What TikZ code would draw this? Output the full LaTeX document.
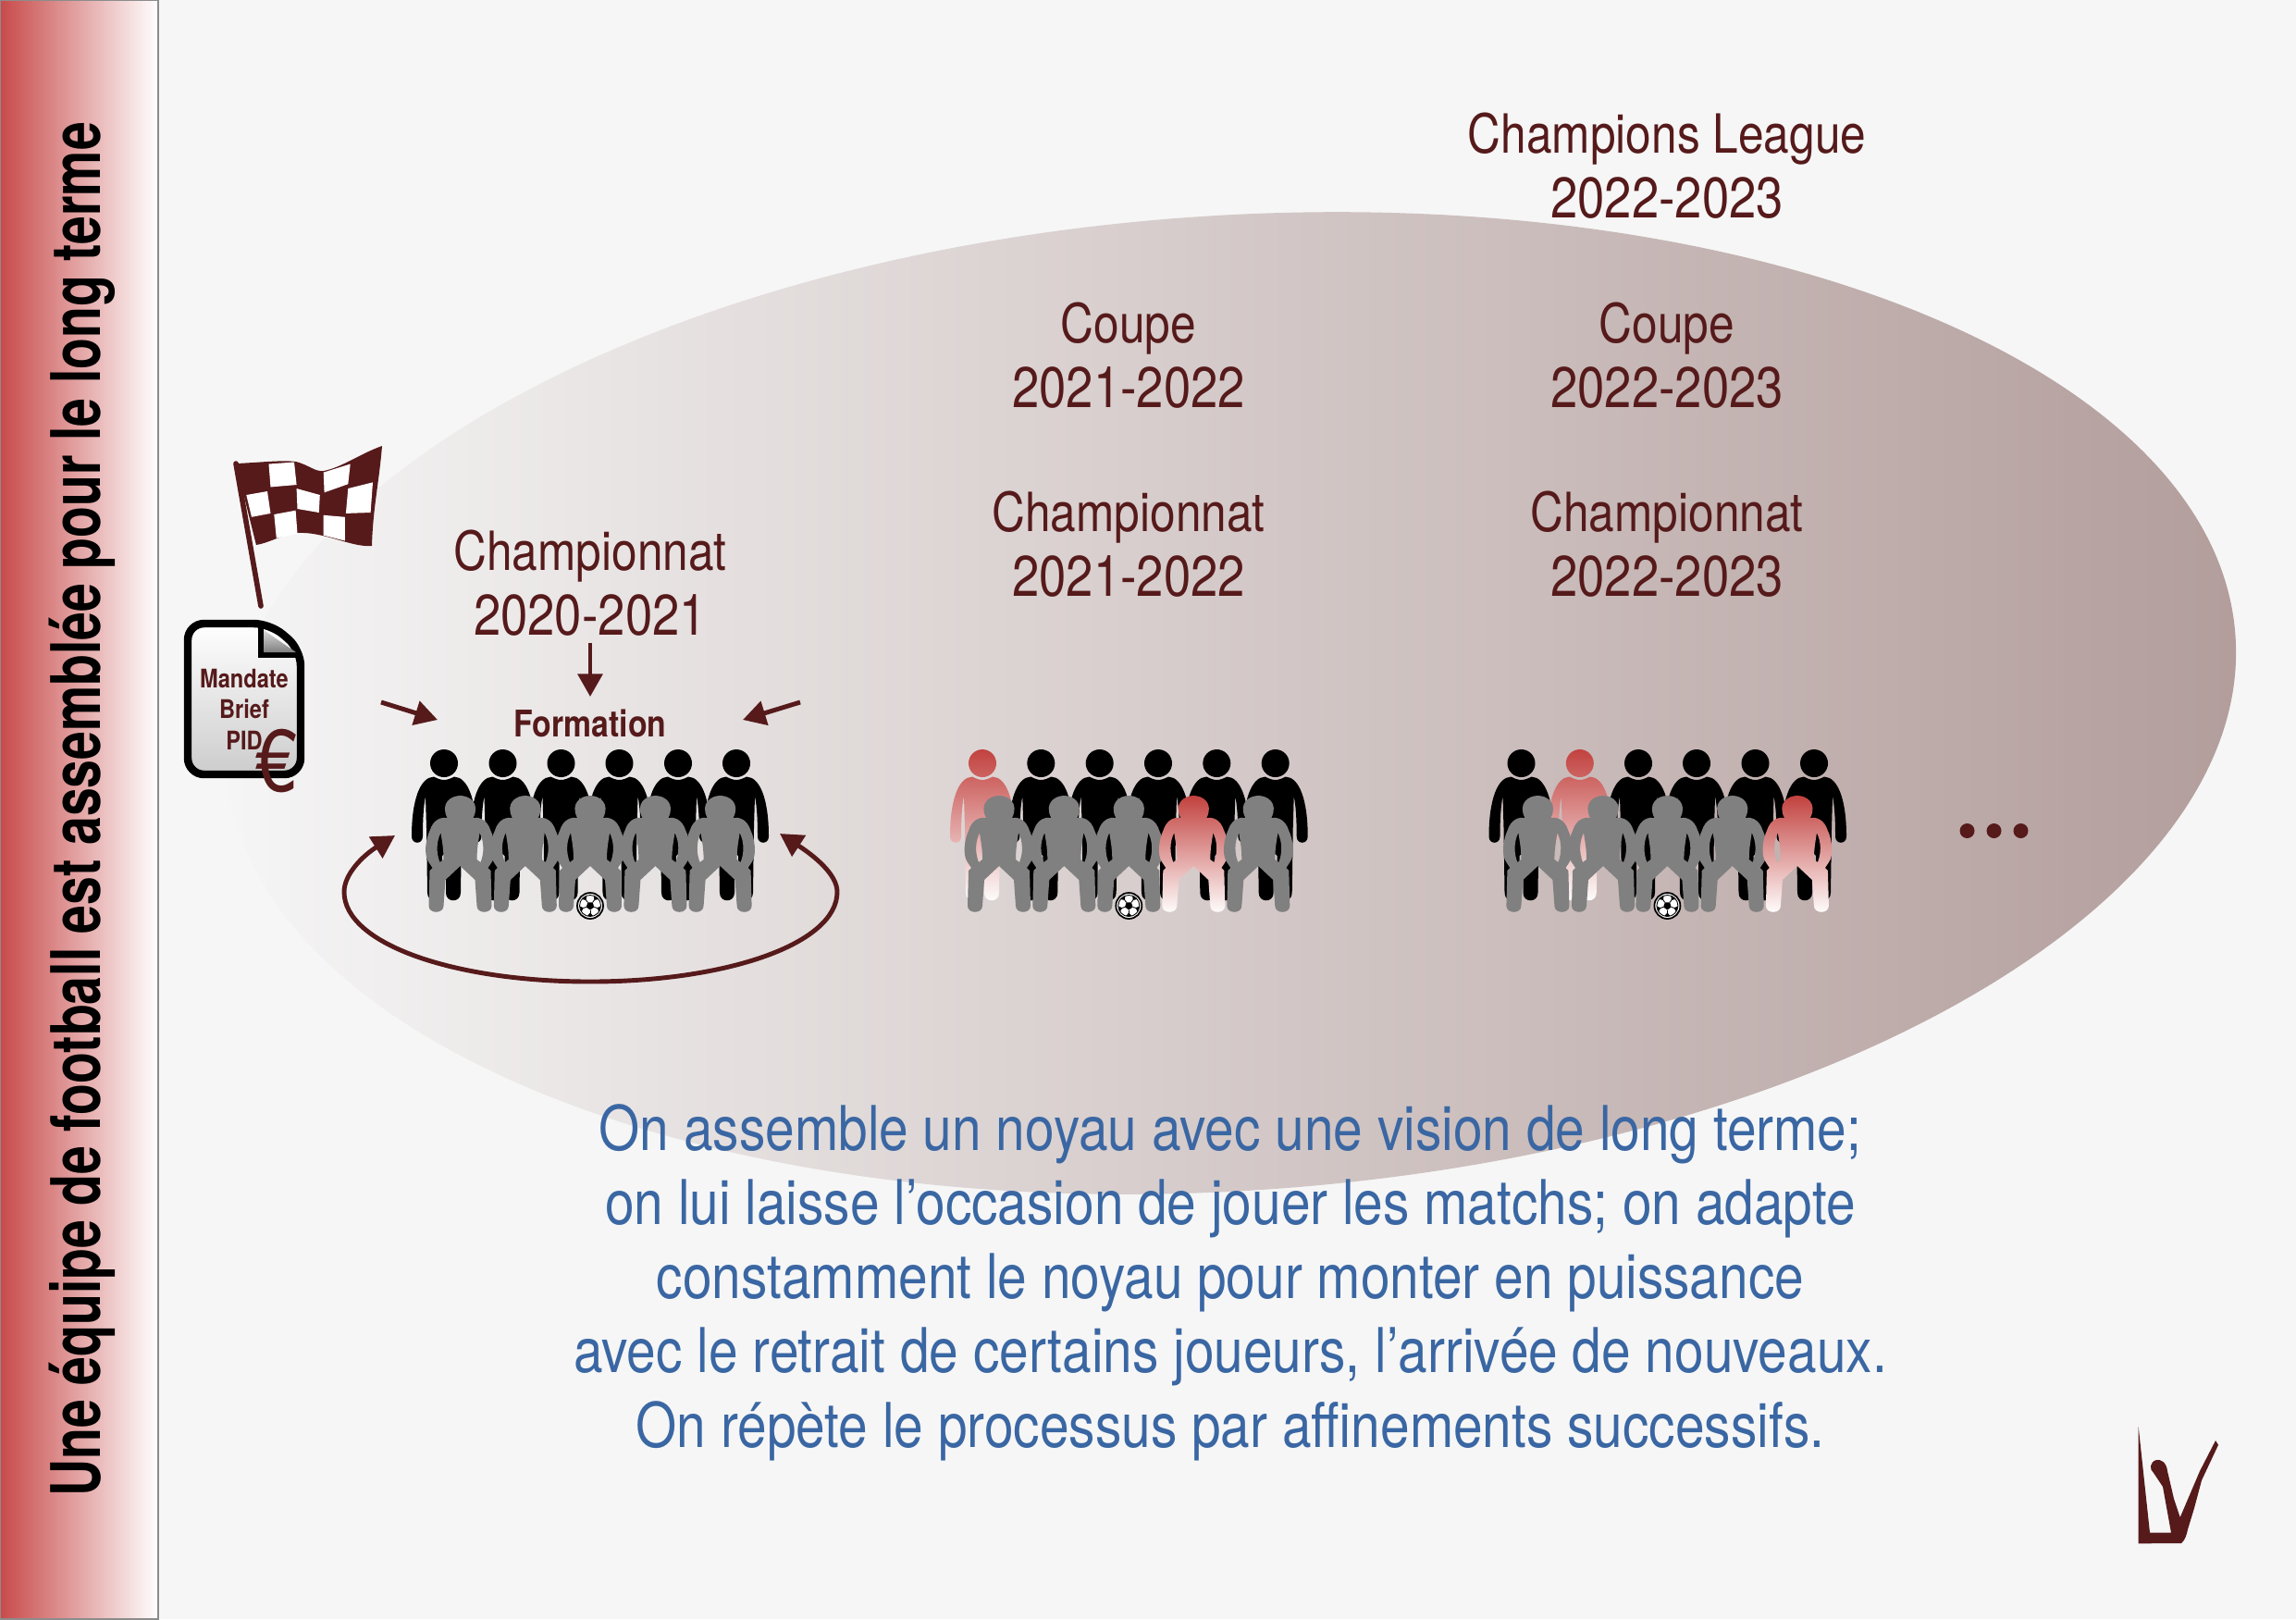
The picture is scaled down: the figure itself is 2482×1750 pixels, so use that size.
\documentclass[tikz,border=0pt]{standalone}
\usepackage{fontspec}
\setmainfont[FakeStretch=0.85]{TeX Gyre Heros}
\newfontfamily\headfont[FakeStretch=0.75]{TeX Gyre Heros}
\usetikzlibrary{arrows.meta}
\definecolor{maroon}{HTML}{561A1B}
\definecolor{bluetext}{HTML}{3A67A3}
\definecolor{bandred}{HTML}{C84A4A}
\definecolor{paper}{HTML}{F6F6F6}
\definecolor{skydark}{HTML}{B29D9B}
\definecolor{playerred}{HTML}{C2423F}
\newcommand{\season}[1]{{\fontsize{17.6pt}{19.9pt}\selectfont #1}}

\begin{document}
\begin{tikzpicture}[
  x=0.01cm,y=-0.01cm,
  flow/.style={-{Triangle[length=7pt,width=7.5pt]},draw=maroon,line width=1.4pt},
  loopflow/.style={{Triangle[length=7pt,width=7.5pt]}-{Triangle[length=7pt,width=7.5pt]},draw=maroon,line width=1.4pt},
  label/.style={font=\fontsize{16.6pt}{19.9pt}\selectfont,text=maroon,align=center},
  punch/.style={font=\fontsize{19pt}{22.8pt}\selectfont,text=bluetext,align=center},
  standout/.style={font=\fontsize{21pt}{24pt}\selectfont\headfont\bfseries,text=black},
  small/.style={font=\fontsize{7.9pt}{9pt}\selectfont\bfseries,text=maroon},
  old/.style={fill=black},
  bench/.style={fill=black!50},
  new/.style={top color=playerred,bottom color=white},
  pics/standing/.style={code={
    \path[pic actions,even odd rule] (0,0) circle[radius=15]
      (0,18) .. controls (4,18) and (8,16) .. (11,14.5) .. controls (26,15) and (35,40) .. (35,79)
      .. controls (35,88) and (23,88) .. (23,79) .. controls (23,60) and (22,45) .. (20,36)
      -- (19,70) -- (18,140) .. controls (18,151) and (2,151) .. (2,140) -- (2,100) -- (0,98)
      -- (-2,100) -- (-2,140) .. controls (-2,151) and (-18,151) .. (-18,140) -- (-19,70) -- (-20,36)
      .. controls (-22,45) and (-23,60) .. (-23,79) .. controls (-23,88) and (-35,88) .. (-35,79)
      .. controls (-35,40) and (-26,15) .. (-11,14.5) .. controls (-8,16) and (-4,18) .. (0,18) -- cycle;
  }},
  pics/crouching/.style={code={
    \path[pic actions,even odd rule] (14,8) .. controls (20,7) and (29,9) .. (33,22)
      .. controls (37,30) and (40,48) .. (34,56) -- (30,62) -- (33,65) -- (34,103)
      .. controls (34,112) and (18,112) .. (18,103) -- (16,75) -- (0,60)
      -- (-16,75) -- (-18,103) .. controls (-18,112) and (-34,112) .. (-34,103)
      -- (-33,65) -- (-30,62) -- (-34,56) .. controls (-40,48) and (-37,30) .. (-33,22)
      .. controls (-29,9) and (-20,7) .. (-14,8) .. controls (-22,-8) and (-10,-16) .. (0,-16)
      .. controls (10,-16) and (22,-8) .. (14,8) -- cycle
      (21,24) .. controls (26,34) and (26,46) .. (22,56) -- (18,53) .. controls (18,40) and (20,32) .. (21,24) -- cycle
      (-21,24) .. controls (-26,34) and (-26,46) .. (-22,56) -- (-18,53) .. controls (-18,40) and (-20,32) .. (-21,24) -- cycle;
  }},
  pics/ball/.style={code={
    \draw[fill=white,line width=0.5pt] (0,0) circle[radius=14];
    \draw[line width=0.25pt] (0,0) circle[radius=11.5];
    \fill[black] (90:4.5) -- (162:4.5) -- (234:4.5) -- (306:4.5) -- (18:4.5) -- cycle;
    \foreach \a in {90,162,234,306,18} {
      \draw[line width=0.25pt] (\a:4.5) -- (\a:8);
      \fill[black] (\a-16:11.5) -- (\a:7.5) -- (\a+16:11.5) -- cycle;
    }
  }},
]
\useasboundingbox (0,0) rectangle (2482,1750);
\fill[paper] (0,0) rectangle (2482,1750);
\path[shade,draw=black!45,line width=0.4pt,left color=bandred,right color=white] (0,0) rectangle (171,1750);
\node[standout,rotate=90] (title) at (89,875) {Une équipe de football est assemblée pour le long terme};

\coordinate (sky) at (1331,760);
\shade[left color=paper,right color=skydark,rotate around={3.8:(sky)}] (sky) ellipse[x radius=1088,y radius=527];

% flag
\draw[maroon,line width=1.6pt,line cap=round] (255,501) -- (282,655);
\fill[maroon] (255,501) .. controls (280,500) and (305,497) .. (320,499) .. controls (335,503) and (340,510) .. (350,509)
  .. controls (370,505) and (390,490) .. (413,482) .. controls (410,520) and (403,550) .. (402,590)
  .. controls (380,592) and (350,574) .. (320,576) .. controls (305,578) and (290,587) .. (277,589) -- cycle;
\fill[white] (290.5,501.5) -- (318,499.5) -- (320.6,524) -- (292.5,526.4) -- cycle;
\fill[white] (349.7,510.6) -- (378.7,501.5) -- (376.3,523.2) -- (350.6,532.3) -- cycle;
\fill[white] (266.3,535) -- (289,531) -- (292.5,554.9) -- (272,558.8) -- cycle;
\fill[white] (320.6,528) -- (345.8,535) -- (344.8,554) -- (321.5,550) -- cycle;
\fill[white] (376.3,528) -- (403,521.3) -- (400.6,554) -- (373.9,554.9) -- cycle;
\fill[white] (296.3,556) -- (319.6,551.7) -- (321.5,576.6) -- (298.8,581.7) -- cycle;
\fill[white] (349.7,556.8) -- (372.9,558.8) -- (372.9,584.5) -- (349.7,578.6) -- cycle;

% mandate sheet
\path[shade,draw=black,line width=2.4pt,rounded corners=5pt,top color=white,bottom color=black!20,middle color=white!90!black]
  (203,674) -- (292,674) -- (325,702) -- (325,837) -- (203,837) -- cycle;
\fill[black] (279,676) rectangle (285,711);
\fill[black] (279,705) rectangle (325,711);
\path[shade,top color=black!15,bottom color=black!50] (285,681) -- (320,705) -- (285,705) -- cycle;
\node[small] (mandate) at (264,733) {Mandate};
\node[small] (brief) at (264,766) {Brief};
\node[small] (pid) at (264,800) {PID};
\node[font=\fontsize{27pt}{27pt}\selectfont,text=maroon] (euro) at (299,823) {€};

% labels
\node[label] (league) at (1802,179) {Champions League\\\season{2022-2023}};
\node[label] (coupeA) at (1220,384) {Coupe\\\season{2021-2022}};
\node[label] (coupeB) at (1802,384) {Coupe\\\season{2022-2023}};
\node[label] (champA) at (638,630) {Championnat\\\season{2020-2021}};
\node[label] (champB) at (1220,588) {Championnat\\\season{2021-2022}};
\node[label] (champC) at (1802,588) {Championnat\\\season{2022-2023}};
\node[font=\fontsize{11.3pt}{14pt}\selectfont\bfseries,text=maroon] (formation) at (638,782) {Formation};

% arrows round the formation
\coordinate (topA) at (638,695);
\coordinate (topB) at (638,753);
\coordinate (leftA) at (412,759);
\coordinate (leftB) at (473,778);
\coordinate (rightA) at (865,759);
\coordinate (rightB) at (803,778);
\coordinate (cycleA) at (427,903);
\coordinate (cycleB) at (843,901);
\draw[flow] (topA) -- (topB);
\draw[flow] (leftA) -- (leftB);
\draw[flow] (rightA) -- (rightB);
\draw[loopflow] (cycleA) .. controls (392,925) and (372,945) .. (372,964) .. controls (372,1020) and (490,1061) .. (638,1061)
  .. controls (786,1061) and (905,1020) .. (905,964) .. controls (905,945) and (880,925) .. (cycleB);

% players
\foreach \hx/\kind in {480/old,543.5/old,606.5/old,669.5/old,733/old,796/old,
    1062/new,1125.3/old,1188.7/old,1252/old,1315.3/old,1378.7/old,
    1644.5/old,1707.8/new,1771/old,1834/old,1897.5/old,1961/old}
  \pic[\kind] at (\hx,825) {standing};
\foreach \hx/\kind in {497.5/bench,567.8/bench,638/bench,708.4/bench,778.6/bench,
    1080/bench,1150.3/bench,1220.3/bench,1290.3/new,1360.3/bench,
    1662.4/bench,1733/bench,1802.4/bench,1872.7/bench,1942.9/new}
  \pic[\kind] at (\hx,876) {crouching};
\foreach \hx in {638,1220.3,1802.4}
  \pic at (\hx,979) {ball};

% dots
\foreach \hx in {2126.5,2155.5,2184.5}
  \fill[maroon] (\hx,898) circle[radius=8];

% text
\node[punch] (summary) at (1330,1386) {On assemble un noyau avec une vision de long terme;\\on lui laisse l’occasion de jouer les matchs; on adapte\\constamment le noyau pour monter en puissance\\avec le retrait de certains joueurs, l’arrivée de nouveaux.\\On répète le processus par affinements successifs.};

% logo
\fill[maroon] (2311.7,1542.3) -- (2311.7,1668.3) -- (2358,1668) .. controls (2362,1665) and (2364,1658) .. (2365,1653)
  -- (2372,1630) -- (2380,1600) -- (2398,1561.7) -- (2395,1557) -- (2378,1590) -- (2356.7,1640) -- (2350,1620)
  -- (2343,1590) .. controls (2342,1580) and (2335,1577) .. (2331,1578) .. controls (2324,1580) and (2323,1588) .. (2328,1592)
  -- (2338,1607) -- (2347,1656.7) -- (2324,1656.7) -- cycle;
\end{tikzpicture}
\end{document}
